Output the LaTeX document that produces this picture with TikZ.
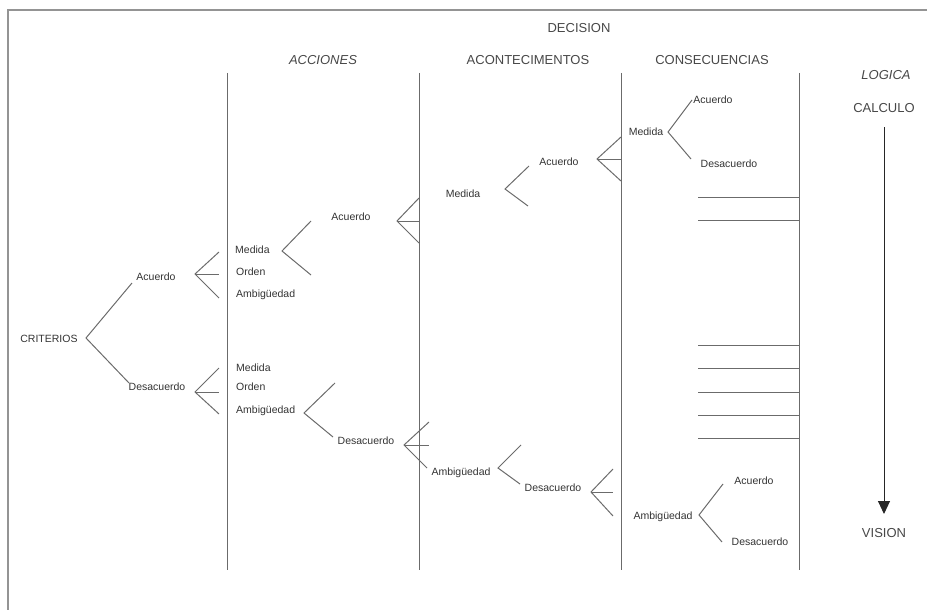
\documentclass[tikz,border=0pt]{standalone}
\usepackage{fontspec}
\setmainfont{Liberation Sans}
\usetikzlibrary{arrows.meta}
\begin{document}
\begin{tikzpicture}[x=1pt,y=-1pt,
  ln/.style={draw=black!58, line width=1.0pt},
  frame/.style={draw=black!42, line width=1.6pt},
  lbl/.style={font=\fontsize{10.5}{12}\selectfont, text=black!80, inner sep=0pt},
  hdr/.style={font=\fontsize{13}{15}\selectfont, text=black!72, inner sep=0pt},
  ihdr/.style={hdr, font=\fontsize{13}{15}\selectfont\itshape},
]
\useasboundingbox (0,0) rectangle (927,610);
% frame
\coordinate (fbl) at (8,610); \coordinate (ftl) at (8,10); \coordinate (ftr) at (927,10);
\draw[frame] (fbl) -- (ftl) -- (ftr);

% headers
\node[hdr] (decision) at (579,28) {DECISION};
\node[ihdr] (acciones) at (323,60) {ACCIONES};
\node[hdr] (acont) at (528,60) {ACONTECIMENTOS};
\node[hdr] (consec) at (712,60) {CONSECUENCIAS};
\node[ihdr] (logica) at (886,75) {LOGICA};
\node[hdr] (calculo) at (884,108) {CALCULO};
\node[hdr] (vision) at (884,533) {VISION};
\coordinate (arrS) at (884,127); \coordinate (arrE) at (884,514);
\draw[ln, -{Triangle[width=12pt,length=13pt]}, black!85] (arrS) -- (arrE);

% vertical separators
\foreach \n/\x in {c1/227, c2/419, c3/621, c4/799} {
  \coordinate (\n t) at (\x,73); \coordinate (\n b) at (\x,570);
  \draw[ln] (\n t) -- (\n b);
}

% horizontal ticks at consequences
\foreach \i/\y in {1/197, 2/220, 3/345, 4/368, 5/392, 6/415, 7/438} {
  \coordinate (h\i a) at (698,\y); \coordinate (h\i b) at (799,\y);
  \draw[ln] (h\i a) -- (h\i b);
}

% ---------- left tree ----------
\node[lbl] (crit) at (49,339) {CRITERIOS};
\coordinate (v0) at (86,338); \coordinate (v0a) at (132,283); \coordinate (v0b) at (129,383);
\draw[ln] (v0a) -- (v0) -- (v0b);
\node[lbl] (acu1) at (156,277) {Acuerdo};
\node[lbl] (des1) at (157,387) {Desacuerdo};

\coordinate (fa) at (195,274); \coordinate (fa1) at (219,252); \coordinate (fa2) at (219,274); \coordinate (fa3) at (219,298);
\draw[ln] (fa1) -- (fa) -- (fa3); \draw[ln] (fa) -- (fa2);
\coordinate (fd) at (195,392); \coordinate (fd1) at (219,368); \coordinate (fd2) at (219,392); \coordinate (fd3) at (219,414);
\draw[ln] (fd1) -- (fd) -- (fd3); \draw[ln] (fd) -- (fd2);

\node[lbl, anchor=west] (med1) at (235,250) {Medida};
\node[lbl, anchor=west] (ord1) at (236,272) {Orden};
\node[lbl, anchor=west] (amb1) at (236,295) {Ambigüedad};
\node[lbl, anchor=west] (med2) at (236,368) {Medida};
\node[lbl, anchor=west] (ord2) at (236,387) {Orden};
\node[lbl, anchor=west] (amb2) at (236,411) {Ambigüedad};

% upper branch
\coordinate (fm1) at (282,251); \coordinate (fm1a) at (311,221); \coordinate (fm1b) at (311,275);
\draw[ln] (fm1a) -- (fm1) -- (fm1b);
\node[lbl] (acu2) at (351,217) {Acuerdo};
\coordinate (fb) at (397,221); \coordinate (fb1) at (419,198); \coordinate (fb2) at (419,221); \coordinate (fb3) at (419,243);
\draw[ln] (fb1) -- (fb) -- (fb3); \draw[ln] (fb) -- (fb2);

\node[lbl] (med3) at (463,194) {Medida};
\coordinate (fm3) at (505,189); \coordinate (fm3a) at (529,166); \coordinate (fm3b) at (528,206);
\draw[ln] (fm3a) -- (fm3) -- (fm3b);
\node[lbl] (acu3) at (559,162) {Acuerdo};
\coordinate (fc) at (597,159); \coordinate (fc1) at (621,137); \coordinate (fc2) at (621,159); \coordinate (fc3) at (621,181);
\draw[ln] (fc1) -- (fc) -- (fc3); \draw[ln] (fc) -- (fc2);

\node[lbl] (med4) at (646,132) {Medida};
\coordinate (fm4) at (668,132); \coordinate (fm4a) at (692,100); \coordinate (fm4b) at (691,159);
\draw[ln] (fm4a) -- (fm4) -- (fm4b);
\node[lbl] (acu4) at (713,100) {Acuerdo};
\node[lbl] (des4) at (729,164) {Desacuerdo};

% lower branch
\coordinate (fa2v) at (304,413); \coordinate (fa2a) at (335,383); \coordinate (fa2b) at (333,437);
\draw[ln] (fa2a) -- (fa2v) -- (fa2b);
\node[lbl] (des2) at (366,441) {Desacuerdo};
\coordinate (fe) at (404,445); \coordinate (fe1) at (429,422); \coordinate (fe2) at (429,445); \coordinate (fe3) at (427,468);
\draw[ln] (fe1) -- (fe) -- (fe3); \draw[ln] (fe) -- (fe2);

\node[lbl] (amb3) at (461,473) {Ambigüedad};
\coordinate (fa3v) at (498,468); \coordinate (fa3a) at (521,445); \coordinate (fa3b) at (520,484);
\draw[ln] (fa3a) -- (fa3v) -- (fa3b);
\node[lbl] (des3) at (553,488) {Desacuerdo};
\coordinate (ff) at (591,492); \coordinate (ff1) at (613,469); \coordinate (ff2) at (613,492); \coordinate (ff3) at (613,516);
\draw[ln] (ff1) -- (ff) -- (ff3); \draw[ln] (ff) -- (ff2);

\node[lbl] (amb4) at (663,517) {Ambigüedad};
\coordinate (fa4v) at (699,515); \coordinate (fa4a) at (723,484); \coordinate (fa4b) at (722,542);
\draw[ln] (fa4a) -- (fa4v) -- (fa4b);
\node[lbl] (acu5) at (754,481) {Acuerdo};
\node[lbl] (des5) at (760,542) {Desacuerdo};
\end{tikzpicture}
\end{document}
